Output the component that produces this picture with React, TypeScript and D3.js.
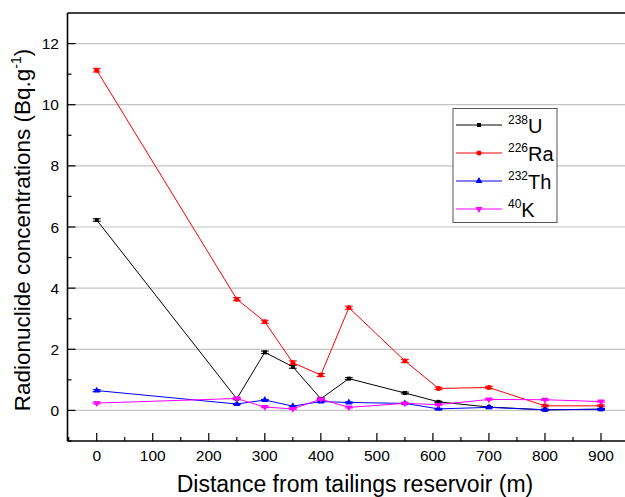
import React from 'react';
import * as d3 from 'd3';

// distances (m)
const distances = [0, 250, 300, 350, 400, 450, 550, 610, 700, 800, 900];
// concentrations (Bq/g)
const uValues = [6.23, 0.38, 1.9, 1.43, 0.38, 1.04, 0.57, 0.28, 0.11, 0.02, 0.04];
const raValues = [11.13, 3.64, 2.9, 1.56, 1.16, 3.36, 1.62, 0.72, 0.75, 0.15, 0.15];
const thValues = [0.65, 0.21, 0.34, 0.14, 0.29, 0.26, 0.23, 0.05, 0.1, 0.02, 0.04];
const kValues = [0.24, 0.39, 0.11, 0.05, 0.37, 0.1, 0.23, 0.19, 0.36, 0.35, 0.29];
// error bar half widths
const uErr = [0.04, 0.03, 0.04, 0.05, 0.03, 0.03, 0.03, 0.02, 0.02, 0.02, 0.02];
const raErr = [0.06, 0.05, 0.05, 0.06, 0.05, 0.05, 0.05, 0.04, 0.04, 0.03, 0.03];
const thErr = [0.03, 0.02, 0.02, 0.02, 0.02, 0.02, 0.02, 0.02, 0.02, 0.02, 0.02];
const kErr = [0.03, 0.02, 0.02, 0.02, 0.02, 0.02, 0.02, 0.02, 0.02, 0.02, 0.02];

const xTicks = [0, 100, 200, 300, 400, 500, 600, 700, 800, 900];
const yTicks = [0, 2, 4, 6, 8, 10, 12];

const series = [
  { iso: '238', el: 'U', color: '#000000', values: uValues, err: uErr, sym: d3.symbolSquare, size: 16, rot: 0 },
  { iso: '226', el: 'Ra', color: '#ff0000', values: raValues, err: raErr, sym: d3.symbolCircle, size: 20, rot: 0 },
  { iso: '232', el: 'Th', color: '#0000ff', values: thValues, err: thErr, sym: d3.symbolTriangle, size: 20, rot: 0 },
  { iso: '40', el: 'K', color: '#ff00ff', values: kValues, err: kErr, sym: d3.symbolTriangle, size: 20, rot: 180 },
];

export default function App() {
  const W = 625, H = 497;
  const left = 67.5, top = 13, bottom = 441;

  // x: 0 -> 96.7, 900 -> 601
  const x = d3.scaleLinear().domain([0, 900]).range([96.7, 601]);
  const y = d3.scaleLinear().domain([-1, 13]).range([bottom, top]);
  const minorX = d3.range(-50, 1000, 50).filter(v => v % 100 !== 0 && x(v) > left);
  const minorY = d3.range(-1, 13, 2);

  const line = d3.line<number>()
    .x((_, i) => x(distances[i]))
    .y(d => y(d));

  const font = 'Liberation Sans, Arial, sans-serif';

  return (
    <svg width={W} height={H} style={{ position: 'absolute', left: 0, top: 0, background: '#fff' }} fontFamily={font}>
      {/* grid */}
      {yTicks.map(t => (
        <line key={'g' + t} x1={left} x2={W} y1={y(t)} y2={y(t)} stroke="#c4c4c4" strokeWidth={1.2} />
      ))}

      {/* series */}
      {series.map(s => (
        <g key={s.el}>
          <path d={line(s.values) || ''} fill="none" stroke={s.color} strokeWidth={1} />
          {s.values.map((v, i) => {
            const cx = x(distances[i]);
            const y1 = y(v + s.err[i]), y2 = y(v - s.err[i]);
            return (
              <g key={i} stroke={s.color} strokeWidth={1}>
                <line x1={cx} x2={cx} y1={y1} y2={y2} />
                <line x1={cx - 4} x2={cx + 4} y1={y1} y2={y1} />
                <line x1={cx - 4} x2={cx + 4} y1={y2} y2={y2} />
                <path d={d3.symbol(s.sym, s.size)() || ''} transform={`translate(${cx},${y(v)}) rotate(${s.rot})`} fill={s.color} stroke="none" />
              </g>
            );
          })}
        </g>
      ))}

      {/* axes */}
      <line x1={left} x2={left} y1={top} y2={bottom} stroke="#000" strokeWidth={1.6} />
      <line x1={left} x2={W} y1={bottom} y2={bottom} stroke="#000" strokeWidth={1.6} />
      <line x1={left} x2={W} y1={top} y2={top} stroke="#000" strokeWidth={1.6} />

      {xTicks.map(t => (
        <g key={'x' + t}>
          <line x1={x(t)} x2={x(t)} y1={bottom} y2={bottom - 8} stroke="#000" strokeWidth={1.2} />
          <text x={x(t)} y={461} textAnchor="middle" fontSize={15.5}>{t}</text>
        </g>
      ))}
      {minorX.map(t => (
        <line key={'mx' + t} x1={x(t)} x2={x(t)} y1={bottom} y2={bottom - 4} stroke="#000" strokeWidth={1.2} />
      ))}
      {yTicks.map(t => (
        <g key={'y' + t}>
          <line x1={left} x2={left + 8} y1={y(t)} y2={y(t)} stroke="#000" strokeWidth={1.2} />
          <text x={59} y={y(t) + 5.5} textAnchor="end" fontSize={15.5}>{t}</text>
        </g>
      ))}
      {minorY.map(t => (
        <line key={'my' + t} x1={left} x2={left + 4} y1={y(t)} y2={y(t)} stroke="#000" strokeWidth={1.2} />
      ))}

      {/* axis titles */}
      <text x={355} y={492} textAnchor="middle" fontSize={23}>Distance from tailings reservoir (m)</text>
      <text transform={`translate(30,${(top + bottom) / 2 + 3}) rotate(-90)`} textAnchor="middle" fontSize={22.5}>
        Radionuclide concentrations (Bq.g<tspan dy={-9} fontSize={14}>-1</tspan><tspan dy={9}>)</tspan>
      </text>

      {/* legend */}
      <rect x={453} y={108.5} width={104} height={114} fill="#fff" stroke="#555" strokeWidth={1} />
      {series.map((s, i) => {
        const ly = 125 + i * 28;
        return (
          <g key={'l' + s.el}>
            <line x1={456} x2={502} y1={ly} y2={ly} stroke={s.color} strokeWidth={1} />
            <path d={d3.symbol(s.sym, s.size)() || ''} transform={`translate(479,${ly}) rotate(${s.rot})`} fill={s.color} />
            <text x={508} y={ly + 8} fontSize={20}>
              <tspan fontSize={12} dy={-9}>{s.iso}</tspan><tspan dy={9}>{s.el}</tspan>
            </text>
          </g>
        );
      })}
    </svg>
  );
}
